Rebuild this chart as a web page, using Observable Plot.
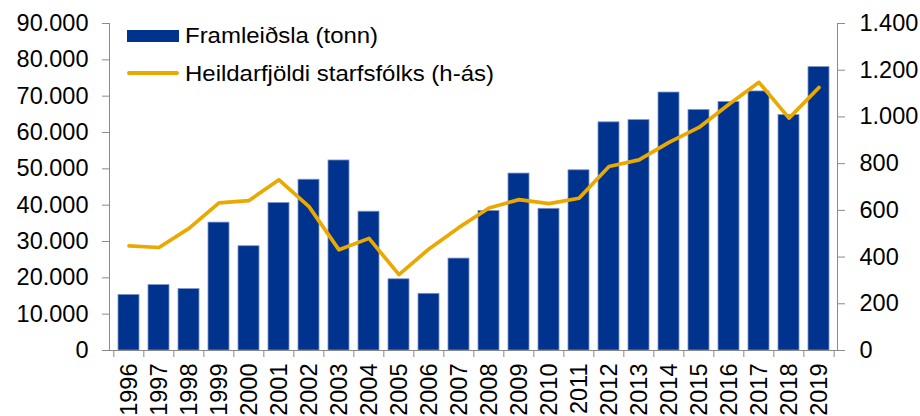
<!DOCTYPE html>
<html><head><meta charset="utf-8">
<script src="https://cdn.jsdelivr.net/npm/d3@7"></script>
<script src="https://cdn.jsdelivr.net/npm/@observablehq/plot@0.6"></script>
<style>
html,body{margin:0;padding:0;background:#fff;}
#wrap{position:relative;width:920px;height:416px;overflow:hidden;font-family:"Liberation Sans",Arial,sans-serif;}
#wrap svg{position:absolute;left:0;top:0;}
.lg{position:absolute;font-size:22.5px;line-height:1;color:#000;white-space:nowrap;transform:scaleX(1.065);transform-origin:left center;}
.sw{position:absolute;}
</style>
</head><body>
<div id="wrap"></div>
<script>
const years = ["1996","1997","1998","1999","2000","2001","2002","2003","2004","2005","2006","2007","2008","2009","2010","2011","2012","2013","2014","2015","2016","2017","2018","2019"];
const production = [15300,18000,16900,35200,28700,40600,47000,52300,38200,19600,15600,25300,38400,48700,39000,49600,62800,63400,71000,66200,68400,71300,64800,78000];
const staff = [448,441,523,632,642,731,616,431,480,325,435,527,610,646,629,652,788,816,891,955,1054,1148,995,1126];
const leftTicks = [0,10000,20000,30000,40000,50000,60000,70000,80000,90000];
const rightTicks = [0,200,400,600,800,1000,1200,1400];
const seriesNames = ["Framleiðsla (tonn)", "Heildarfjöldi starfsfólks (h-ás)"];

const W = 920, H = 416, mL = 109, mR = 83, mT = 23, mB = 66;
const step = (W - mL - mR) / years.length;
const ratio = 90000 / 1400;
const fmt = d3.formatLocale({decimal: ",", thousands: ".", grouping: [3], currency: ["", ""]}).format(",d");
const rows = years.map((y, i) => ({year: y, prod: production[i], staff: staff[i]}));
const blue = "#00338D", gold = "#EBA900", axisGray = "#8a8a8a";

const chart = Plot.plot({
  width: W, height: H,
  marginLeft: mL, marginRight: mR, marginTop: mT, marginBottom: mB,
  style: {fontFamily: "'Liberation Sans', Arial, sans-serif", fontSize: "23.5px", color: "#000", background: "transparent", overflow: "visible"},
  x: {domain: years, paddingInner: 0.3, paddingOuter: 0.15, axis: null},
  y: {domain: [0, 90000], axis: null},
  marks: [
    Plot.barY(rows, {x: "year", y: "prod", fill: blue, stroke: "#7d95c8", strokeWidth: 0.8}),
    Plot.line(rows, {x: "year", y: d => d.staff * ratio, stroke: gold, strokeWidth: 3.7, strokeLinejoin: "round", strokeLinecap: "round"}),
    Plot.frame({anchor: "left", stroke: axisGray}),
    Plot.frame({anchor: "right", stroke: axisGray}),
    Plot.ruleY([0], {stroke: axisGray}),
    Plot.axisY(leftTicks, {anchor: "left", tickSize: 7, tickPadding: 14, tickFormat: fmt, stroke: axisGray, label: null}),
    Plot.axisY(rightTicks.map(v => v * ratio), {anchor: "right", tickSize: 7, tickPadding: 15, tickFormat: v => fmt(Math.round(v / ratio)), stroke: axisGray, label: null}),
    Plot.axisX(years, {tickSize: 7, dx: -step / 2, tickFormat: () => "", stroke: axisGray, label: null}),
    Plot.axisX([years[years.length - 1]], {tickSize: 7, dx: step / 2, tickFormat: () => "", stroke: axisGray, label: null}),
    Plot.axisX(years, {tickSize: 0, tickPadding: 13, tickRotate: -90, label: null})
  ]
});
const wrap = document.getElementById("wrap");
wrap.appendChild(chart);

function addLegend(swatchStyle, text, textTop) {
  const s = document.createElement("div");
  s.className = "sw";
  Object.assign(s.style, swatchStyle);
  wrap.appendChild(s);
  const t = document.createElement("div");
  t.className = "lg";
  t.style.left = "185px";
  t.style.top = textTop + "px";
  t.textContent = text;
  wrap.appendChild(t);
}
addLegend({left: "127px", top: "30px", width: "52px", height: "12px", background: blue}, seriesNames[0], 25);
addLegend({left: "127px", top: "71.3px", width: "52px", height: "4px", background: gold, borderRadius: "2px"}, seriesNames[1], 63);
</script>
</body></html>
